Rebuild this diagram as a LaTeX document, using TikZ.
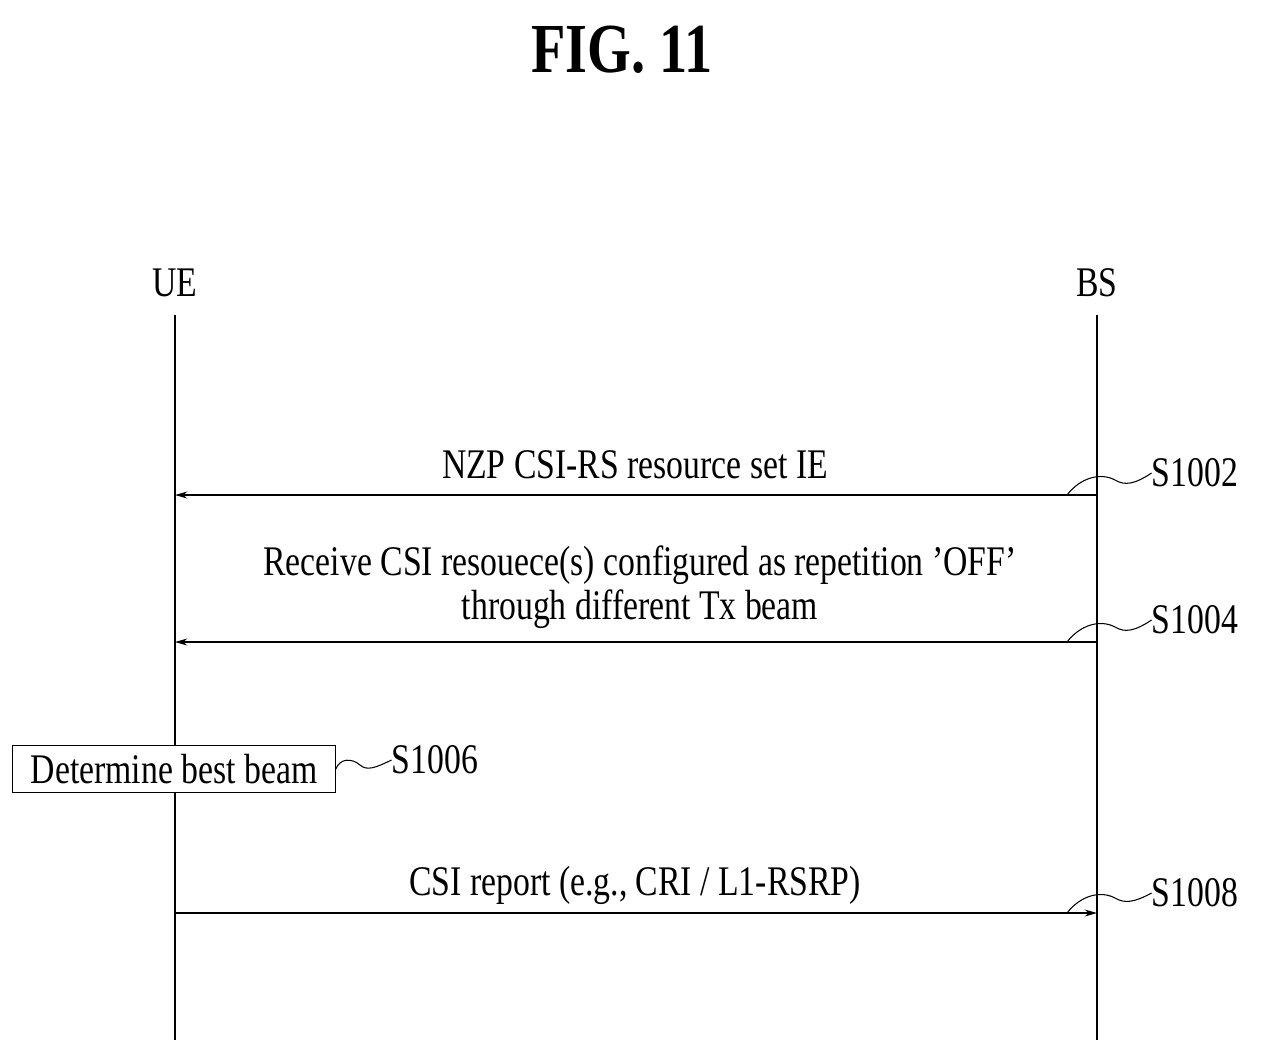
\documentclass[tikz,border=0pt]{standalone}
\usepackage{fontspec}
\setmainfont{Liberation Serif}
\usetikzlibrary{arrows.meta}
\begin{document}
\begin{tikzpicture}[x=0.02cm,y=-0.02cm,
  txt/.style={inner sep=0pt,font=\fontsize{24}{28}\selectfont},
  life/.style={line width=0.6pt},
  msg/.style={line width=0.6pt,-{Stealth[length=7pt,width=4pt]}},
  lead/.style={line width=0.6pt}]
\useasboundingbox (0,0) rectangle (1261,1063);
\node[txt,font=\fontsize{40}{44}\bfseries\selectfont] (title) at (622,50) {\scalebox{0.8}[1]{FIG. 11}};
\node[txt] (ue) at (175,283) {\scalebox{0.8}[1]{UE}};
\node[txt] (bs) at (1097,283) {\scalebox{0.8}[1]{BS}};
\coordinate (ueT) at (175,315); \coordinate (ueB) at (175,1040);
\coordinate (bsT) at (1097,315); \coordinate (bsB) at (1097,1040);
\draw[life] (ueT) -- (ueB);
\draw[life] (bsT) -- (bsB);
\coordinate (a1) at (1097,495); \coordinate (b1) at (175,495);
\draw[msg] (a1) -- (b1);
\node[txt] (t1) at (635,465) {\scalebox{0.8}[1]{NZP CSI-RS resource set IE}};
\coordinate (a2) at (1097,642); \coordinate (b2) at (175,642);
\draw[msg] (a2) -- (b2);
\node[txt,align=center] (t2) at (640,587) {\scalebox{0.8}[1]{\shortstack{Receive CSI resouece(s) configured as repetition 'OFF'\\through different Tx beam}}};
\node[txt,draw,line width=0.6pt,fill=white,minimum width=306\pgflinewidth,inner xsep=6pt,inner ysep=5pt] (box) at (174,769) {\scalebox{0.8}[1]{Determine best beam}};
\coordinate (a4) at (175,913); \coordinate (b4) at (1097,913);
\draw[msg] (a4) -- (b4);
\node[txt] (t4) at (635,885) {\scalebox{0.8}[1]{CSI report (e.g., CRI / L1-RSRP)}};
\node[txt] (s1) at (1195,473) {\scalebox{0.8}[1]{S1002}};
\node[txt] (s2) at (1195,620) {\scalebox{0.8}[1]{S1004}};
\node[txt] (s3) at (435,760) {\scalebox{0.8}[1]{S1006}};
\node[txt] (s4) at (1195,893) {\scalebox{0.8}[1]{S1008}};
\draw[lead] (1067,495) .. controls (1080,478) and (1100,472) .. (1115,480) .. controls (1125,486) and (1135,484) .. (s1.west);
\draw[lead] (1067,642) .. controls (1080,625) and (1100,619) .. (1115,627) .. controls (1125,633) and (1135,631) .. (s2.west);
\draw[lead] (1067,913) .. controls (1080,896) and (1100,890) .. (1115,898) .. controls (1125,904) and (1135,902) .. (s4.west);
\draw[lead] (box.east) .. controls (340,758) and (352,758) .. (360,765) .. controls (367,771) and (375,768) .. (s3.west);
\end{tikzpicture}
\end{document}
